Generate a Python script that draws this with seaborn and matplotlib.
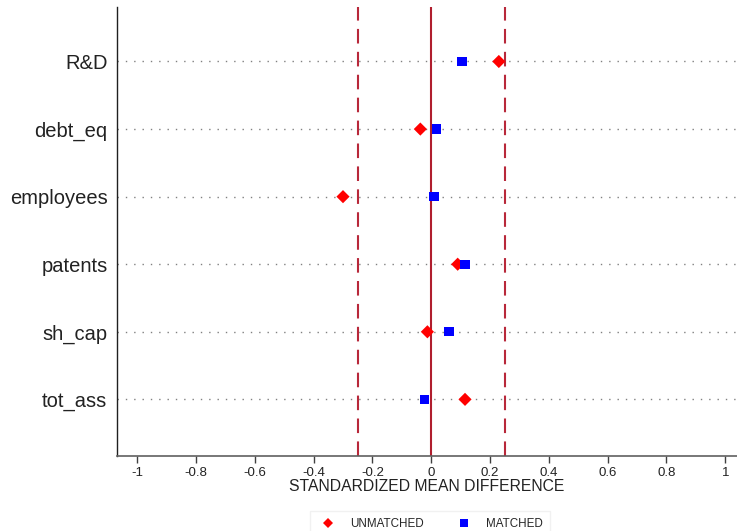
import matplotlib
matplotlib.use("Agg")
import matplotlib.pyplot as plt
import seaborn as sns
import pandas as pd

# standardized mean differences before/after matching
variables = ["R&D", "debt_eq", "employees", "patents", "sh_cap", "tot_ass"]
unmatched = [0.23, -0.037, -0.30, 0.09, -0.013, 0.115]
matched = [0.105, 0.017, 0.01, 0.115, 0.06, -0.023]
x_ticks = [-1, -0.8, -0.6, -0.4, -0.2, 0, 0.2, 0.4, 0.6, 0.8, 1]

df = pd.concat([
    pd.DataFrame({"var": variables, "smd": unmatched, "group": "UNMATCHED"}),
    pd.DataFrame({"var": variables, "smd": matched, "group": "MATCHED"}),
])
df["pos"] = df["var"].map({v: i for i, v in enumerate(variables)})

sns.set_style("white")
plt.rcParams["font.family"] = ["Liberation Sans", "DejaVu Sans"]

fig = plt.figure(figsize=(7.37, 5.31), dpi=100)
ax = fig.add_axes([0.159, 0.141, 0.841, 0.845])

# reference lines
ax.axvline(0, color="#b01e2e", lw=1.5, zorder=1)
ax.axvline(-0.25, color="#b8283a", lw=1.5, ls=(0, (7, 4)), zorder=1)
ax.axvline(0.25, color="#b8283a", lw=1.5, ls=(0, (7, 4)), zorder=1)

sns.scatterplot(data=df, x="smd", y="pos", hue="group", style="group",
                palette={"UNMATCHED": "#ff0000", "MATCHED": "#0000ff"},
                markers={"UNMATCHED": "D", "MATCHED": "s"},
                s=45, linewidth=0, ax=ax, zorder=3)

ax.set_yticks(range(len(variables)))
ax.set_yticklabels(variables, fontsize=14.5, color="#222222")
ax.set_ylim(5.84, -0.8)
ax.set_xlim(-1.068, 1.04)
ax.set_xticks(x_ticks)
ax.set_xticklabels([f"{t:g}" for t in x_ticks], fontsize=9.5, color="#222222")
ax.set_xlabel("STANDARDIZED MEAN DIFFERENCE", fontsize=11.3, labelpad=0,
              color="#222222")
ax.set_ylabel("")

ax.yaxis.grid(True, linestyle=(0, (1, 5)), color="#808080", lw=1)
ax.xaxis.grid(False)
ax.tick_params(axis="y", left=False, length=0, pad=7)
ax.tick_params(axis="x", bottom=True, length=5, width=1, color="#404040",
               pad=3, direction="out")

for side in ["top", "right"]:
    ax.spines[side].set_visible(False)
ax.spines["left"].set_color("#202020")
ax.spines["bottom"].set_color("#606060")
ax.spines["left"].set_linewidth(1)
ax.spines["bottom"].set_linewidth(1.2)

leg = ax.legend(loc="lower center", ncol=2, frameon=True,
                fontsize=8.4, markerscale=0.8, columnspacing=2.4,
                handletextpad=0.9, borderpad=0.6, fancybox=False)
leg.set_bbox_to_anchor((0.583, -0.022), transform=fig.transFigure)
leg.get_frame().set_edgecolor("#eeeeee")
leg.get_frame().set_linewidth(1)

fig.savefig("out.png", dpi=100)
